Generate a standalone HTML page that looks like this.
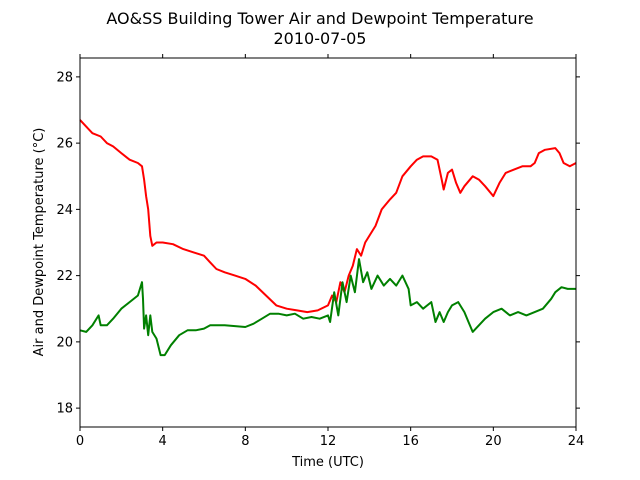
<!DOCTYPE html>
<html><head><meta charset="utf-8"><style>
html,body{margin:0;padding:0;background:#fff;}
svg{display:block;font-family:"DejaVu Sans","Liberation Sans",sans-serif;}
</style></head><body>
<svg id="chart" width="640" height="480" viewBox="0 0 640 480">
<text x="320" y="24" font-size="16" text-anchor="middle">AO&amp;SS Building Tower Air and Dewpoint Temperature</text>
<text x="320" y="44" font-size="16" text-anchor="middle">2010-07-05</text>
<g id="axes"></g>
<g id="series"></g>
<rect x="80" y="58" width="496" height="369" fill="none" stroke="#000" stroke-width="1"/>
<text x="328" y="466" font-size="13" text-anchor="middle">Time (UTC)</text>
<text transform="translate(43,242) rotate(-90)" font-size="13" text-anchor="middle">Air and Dewpoint Temperature (°C)</text>
</svg>
<script>
const xTicks=[0,4,8,12,16,20,24];
const yTicks=[18,20,22,24,26,28];
const airHours=[0,0.3,0.6,1,1.3,1.6,2,2.4,2.8,3.0,3.1,3.2,3.3,3.4,3.5,3.7,4,4.5,5,5.5,6,6.3,6.6,7,7.5,8,8.5,9,9.5,10,10.5,11,11.5,12,12.2,12.4,12.6,12.8,13,13.2,13.4,13.6,13.8,14,14.3,14.6,15,15.3,15.6,16,16.3,16.6,17,17.3,17.5,17.6,17.8,18,18.2,18.4,18.6,19,19.3,19.6,20,20.3,20.6,21,21.4,21.8,22,22.2,22.5,23,23.2,23.4,23.7,24];
const airTemp=[26.7,26.5,26.3,26.2,26.0,25.9,25.7,25.5,25.4,25.3,24.9,24.4,24.0,23.2,22.9,23.0,23.0,22.95,22.8,22.7,22.6,22.4,22.2,22.1,22.0,21.9,21.7,21.4,21.1,21.0,20.95,20.9,20.95,21.1,21.4,21.2,21.8,21.5,22.0,22.3,22.8,22.6,23.0,23.2,23.5,24.0,24.3,24.5,25.0,25.3,25.5,25.6,25.6,25.5,24.9,24.6,25.1,25.2,24.8,24.5,24.7,25.0,24.9,24.7,24.4,24.8,25.1,25.2,25.3,25.3,25.4,25.7,25.8,25.85,25.7,25.4,25.3,25.4];
const dewHours=[0,0.3,0.6,0.9,1,1.3,1.6,2,2.4,2.8,3.0,3.05,3.1,3.2,3.3,3.4,3.5,3.7,3.9,4.1,4.4,4.8,5.2,5.6,6,6.3,7,8,8.4,8.8,9.2,9.6,10,10.4,10.8,11.2,11.6,12,12.1,12.3,12.5,12.7,12.9,13.1,13.3,13.5,13.7,13.9,14.1,14.4,14.7,15,15.3,15.6,15.9,16,16.3,16.6,17,17.2,17.4,17.6,17.8,18,18.3,18.6,18.8,19,19.3,19.6,20,20.4,20.8,21.2,21.6,22,22.4,22.8,23,23.3,23.6,24];
const dewTemp=[20.35,20.3,20.5,20.8,20.5,20.5,20.7,21.0,21.2,21.4,21.8,21.3,20.4,20.8,20.2,20.8,20.3,20.1,19.6,19.6,19.9,20.2,20.35,20.35,20.4,20.5,20.5,20.45,20.55,20.7,20.85,20.85,20.8,20.85,20.7,20.75,20.7,20.8,20.6,21.5,20.8,21.8,21.2,22.0,21.5,22.5,21.8,22.1,21.6,22.0,21.7,21.9,21.7,22.0,21.6,21.1,21.2,21.0,21.2,20.6,20.9,20.6,20.9,21.1,21.2,20.9,20.6,20.3,20.5,20.7,20.9,21.0,20.8,20.9,20.8,20.9,21.0,21.3,21.5,21.65,21.6,21.6];
const X0=80,X1=576,Y0=427,Y1=58,XMIN=0,XMAX=24,YMIN=17.43,YMAX=28.57;
function xs(v){return X0+(v-XMIN)/(XMAX-XMIN)*(X1-X0);}
function ys(v){return Y0-(v-YMIN)/(YMAX-YMIN)*(Y0-Y1);}
const NS="http://www.w3.org/2000/svg";
const axes=document.getElementById('axes');
xTicks.forEach(t=>{
  const x=xs(t);
  const b=document.createElementNS(NS,'line');
  b.setAttribute('x1',x);b.setAttribute('x2',x);b.setAttribute('y1',Y0);b.setAttribute('y2',Y0+4);b.setAttribute('stroke','#000');
  
  
  axes.appendChild(b);
  const tp=document.createElementNS(NS,'line');
  tp.setAttribute('x1',x);tp.setAttribute('x2',x);tp.setAttribute('y1',Y1);tp.setAttribute('y2',Y1-4);tp.setAttribute('stroke','#000');
  
  
  axes.appendChild(tp);
  const l=document.createElementNS(NS,'text');
  l.setAttribute('x',x);l.setAttribute('y',Y0+18);l.setAttribute('font-size','13');l.setAttribute('text-anchor','middle');
  l.textContent=t;
  
  
  axes.appendChild(l);
});
yTicks.forEach(t=>{
  const y=ys(t);
  const a=document.createElementNS(NS,'line');
  a.setAttribute('x1',X0-4);a.setAttribute('x2',X0);a.setAttribute('y1',y);a.setAttribute('y2',y);a.setAttribute('stroke','#000');
  
  
  axes.appendChild(a);
  const r=document.createElementNS(NS,'line');
  r.setAttribute('x1',X1);r.setAttribute('x2',X1+4);r.setAttribute('y1',y);r.setAttribute('y2',y);r.setAttribute('stroke','#000');
  
  
  axes.appendChild(r);
  const l=document.createElementNS(NS,'text');
  l.setAttribute('x',X0-7);l.setAttribute('y',y+4.5);l.setAttribute('font-size','13');l.setAttribute('text-anchor','end');
  l.textContent=t;
  
  
  axes.appendChild(l);
});
const series=document.getElementById('series');
function drawLine(hx,vy,color,name){
  const p=document.createElementNS(NS,'polyline');
  p.setAttribute('points',hx.map((h,i)=>xs(h).toFixed(1)+','+ys(vy[i]).toFixed(1)).join(' '));
  p.setAttribute('fill','none');p.setAttribute('stroke',color);p.setAttribute('stroke-width','2');p.setAttribute('stroke-linejoin','round');
  
  
  series.appendChild(p);
}
drawLine(airHours,airTemp,'#ff0000','air-temperature-line');
drawLine(dewHours,dewTemp,'#008000','dewpoint-temperature-line');
</script>
</body></html>
